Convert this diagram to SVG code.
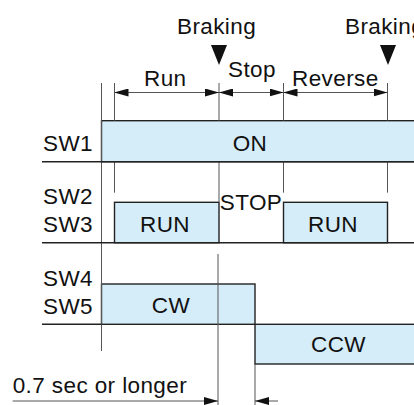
<svg xmlns="http://www.w3.org/2000/svg" width="414" height="405" viewBox="0 0 414 405">
<style>
text{font-family:"Liberation Sans",Arial,sans-serif;font-size:22.5px;letter-spacing:0.4px;fill:#111}
.m{text-anchor:middle}
.box{fill:#d5ecf9;stroke:#222;stroke-width:1.4}
.thin{stroke:#555;stroke-width:1;fill:none}
.div{stroke:#222;stroke-width:1.4;fill:none}
.ah{fill:#111}
</style>
<defs>
<marker id="arr" viewBox="0 0 14 8" refX="14" refY="4" markerWidth="14" markerHeight="8" markerUnits="userSpaceOnUse" orient="auto-start-reverse">
<path d="M0,0 L14,4 L0,8 Z" fill="#111"/>
</marker>
</defs>
<g id="sw1">
<rect class="box" x="101.5" y="120.7" width="320" height="41"/>
<text x="43" y="150.5">SW1</text>
<text class="m" x="250" y="150.5">ON</text>
</g>
<g id="sw23">
<rect class="box" x="114.5" y="202.3" width="104.5" height="40.4"/>
<rect class="box" x="283.5" y="202.3" width="104" height="40.4"/>
<text x="43" y="204">SW2</text>
<text x="43" y="232">SW3</text>
<text class="m" x="165" y="232">RUN</text>
<text class="m" x="333" y="232">RUN</text>
<text class="m" x="251" y="210">STOP</text>
</g>
<g id="sw45">
<rect class="box" x="101.5" y="284" width="153.5" height="40.3"/>
<rect class="box" x="255" y="324.3" width="170" height="39.7"/>
<text x="43" y="286">SW4</text>
<text x="43" y="314">SW5</text>
<text class="m" x="171" y="312.5">CW</text>
<text class="m" x="338.5" y="352">CCW</text>
</g>
<g id="labels">
<text x="177" y="33.5">Braking</text>
<text x="345" y="33.5">Braking</text>
<polygon class="ah" points="211,45 227,45 219,65"/>
<polygon class="ah" points="380,45 396,45 388,65"/>
<text x="144" y="86">Run</text>
<text x="228" y="77">Stop</text>
<text x="292" y="86">Reverse</text>
<text x="12.7" y="393">0.7 sec or longer</text>
</g>
<g id="connectors">
<line class="thin" x1="101.5" y1="83" x2="101.5" y2="351"/>
<line class="thin" x1="114.5" y1="83" x2="114.5" y2="120.7"/>
<line class="thin" x1="219" y1="83" x2="219" y2="120.7"/>
<line class="thin" x1="283.5" y1="83" x2="283.5" y2="120.7"/>
<line class="thin" x1="387.5" y1="83" x2="387.5" y2="120.7"/>
<line class="thin" x1="114.5" y1="161.7" x2="114.5" y2="192.7"/>
<line class="thin" x1="219" y1="161.7" x2="219" y2="202.3"/>
<line class="thin" x1="283.5" y1="161.7" x2="283.5" y2="192.7"/>
<line class="thin" x1="387.5" y1="161.7" x2="387.5" y2="192.7"/>
<line class="thin" x1="218" y1="254" x2="218" y2="405"/>
<line class="thin" x1="255" y1="364" x2="255" y2="405"/>
<line class="div" x1="42" y1="161.7" x2="414" y2="161.7"/>
<line class="div" x1="42" y1="242.7" x2="414" y2="242.7"/>
<line class="div" x1="42" y1="324.3" x2="101.5" y2="324.3"/>
<line class="thin" x1="114.5" y1="92.5" x2="219" y2="92.5" marker-start="url(#arr)" marker-end="url(#arr)"/>
<line class="thin" x1="219" y1="92.5" x2="283.5" y2="92.5" marker-start="url(#arr)" marker-end="url(#arr)"/>
<line class="thin" x1="283.5" y1="92.5" x2="387.5" y2="92.5" marker-start="url(#arr)" marker-end="url(#arr)"/>
<line class="thin" x1="12.7" y1="401" x2="218" y2="401" marker-end="url(#arr)"/>
<line class="thin" x1="278" y1="401" x2="255" y2="401" marker-end="url(#arr)"/>
</g>
</svg>
